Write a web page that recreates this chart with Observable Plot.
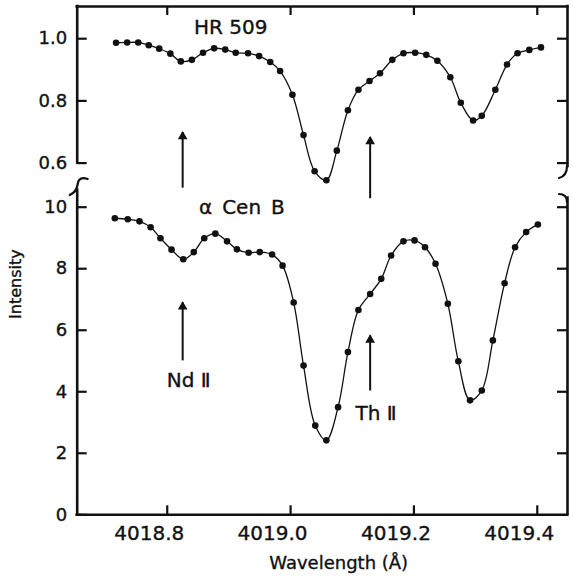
<!DOCTYPE html>
<html>
<head>
<meta charset="utf-8">
<script src="https://cdn.jsdelivr.net/npm/d3@7"></script>
<script src="https://cdn.jsdelivr.net/npm/@observablehq/plot@0.6"></script>
<style>
  html, body { margin: 0; padding: 0; background: #ffffff; }
  #chart { position: relative; width: 573px; height: 582px; overflow: hidden; }
  #chart svg { position: absolute; left: 0; top: 0; background: transparent; }
  g[aria-label="star-label"] text { letter-spacing: 1.5px; }
  #chart svg text { stroke: #111; stroke-width: 0.35px; }
</style>
</head>
<body>
<div id="chart"></div>
<script>
// HR 509 spectrum (residual intensity)
const wavelengthHR = [4018.717, 4018.735, 4018.753, 4018.770, 4018.787, 4018.805, 4018.822, 4018.840,
  4018.858, 4018.876, 4018.894, 4018.911, 4018.931, 4018.949, 4018.967, 4018.983, 4019.003, 4019.021,
  4019.039, 4019.058, 4019.075, 4019.093, 4019.110, 4019.128, 4019.145, 4019.165, 4019.183, 4019.202,
  4019.220, 4019.238, 4019.259, 4019.276, 4019.296, 4019.310, 4019.332, 4019.351, 4019.368, 4019.387, 4019.406];
const intensityHR = [0.987, 0.988, 0.988, 0.979, 0.968, 0.952, 0.927, 0.932, 0.955, 0.969, 0.965, 0.955,
  0.953, 0.944, 0.925, 0.896, 0.820, 0.690, 0.574, 0.545, 0.640, 0.770, 0.836, 0.864, 0.889, 0.932,
  0.953, 0.955, 0.948, 0.929, 0.876, 0.794, 0.737, 0.752, 0.836, 0.917, 0.953, 0.964, 0.972];

// alpha Cen B spectrum (counts)
const wavelengthCen = [4018.715, 4018.736, 4018.755, 4018.773, 4018.789, 4018.807, 4018.826, 4018.843,
  4018.860, 4018.878, 4018.897, 4018.913, 4018.932, 4018.950, 4018.970, 4018.987, 4019.005, 4019.021,
  4019.040, 4019.058, 4019.077, 4019.093, 4019.110, 4019.129, 4019.147, 4019.163, 4019.183, 4019.201,
  4019.218, 4019.235, 4019.255, 4019.272, 4019.291, 4019.310, 4019.328, 4019.347, 4019.364, 4019.382, 4019.401];
const intensityCen = [9.64, 9.61, 9.54, 9.35, 8.99, 8.62, 8.31, 8.54, 8.99, 9.14, 8.89, 8.63, 8.52, 8.54,
  8.46, 8.10, 6.90, 4.85, 2.90, 2.42, 3.50, 5.29, 6.66, 7.18, 7.67, 8.43, 8.89, 8.92, 8.70, 8.16, 6.86,
  4.99, 3.72, 4.04, 5.67, 7.53, 8.70, 9.19, 9.44];

// Axes
const xTicks = [4018.8, 4019.0, 4019.2, 4019.4];
const yTicksHR = [0.6, 0.8, 1.0];
const yTicksCen = [0, 2, 4, 6, 8, 10];

// Identified lines
const lineNames = ["Nd Ⅱ", "Th Ⅱ"];
const lineWavelengths = [4018.825, 4019.129];

const starHR = "HR 509";
const starCen = "α\u2002Cen\u2002B";
const xLabel = "Wavelength (Å)";
const yLabel = "Intensity";

// ---- layout ----
const W = 573, H = 582;
const X_DOMAIN = [4018.654, 4019.449];
const X_RANGE = [76.7, 567];
const [xmin, xmax] = X_DOMAIN;
const FONT = "DejaVu Sans, sans-serif";
const INK = "#111";

const hr = wavelengthHR.map((w, i) => ({w, v: intensityHR[i]}));
const cen = wavelengthCen.map((w, i) => ({w, v: intensityCen[i]}));

const axisStyle = {stroke: INK, strokeWidth: 2.6, strokeLinecap: "square"};
const tickStroke = {stroke: INK, strokeWidth: 2.2};

// pixel length converted to data units of a linear scale
const span = (domain, range, px) => px * Math.abs(domain[1] - domain[0]) / Math.abs(range[1] - range[0]);

function arrowMarks(xs, tips, tails) {
  const rows = xs.map((x, i) => ({x, tip: tips[i], tail: tails[i]}));
  return [
    Plot.link(rows, {x1: "x", x2: "x", y1: "tail", y2: "tip", stroke: INK, strokeWidth: 2}),
    Plot.dot(rows, {x: "x", y: "tip", symbol: "triangle", r: 3.6, fill: INK, stroke: "none", dy: 4.5})
  ];
}

const tickX = span(X_DOMAIN, X_RANGE, 10);   // horizontal tick length on the y axes

// ---- upper panel: HR 509 ----
const HR_DOMAIN = [0.6, 1.0], HR_RANGE = [162.6, 38.2];
const topEdge = 1.1035;
const tickHR = span(HR_DOMAIN, HR_RANGE, 9);
const upperChart = Plot.plot({
  width: W, height: H,
  margin: 0,
  style: {fontFamily: FONT, background: "transparent", color: INK},
  x: {domain: X_DOMAIN, range: X_RANGE, axis: null},
  y: {domain: HR_DOMAIN, range: HR_RANGE, axis: null},
  marks: [
    Plot.ruleX(xTicks, {x: d => d, y1: topEdge, y2: topEdge - tickHR, ...tickStroke}),
    Plot.ruleY(yTicksHR, {y: d => d, x1: xmin, x2: xmin + tickX, ...tickStroke}),
    Plot.ruleY(yTicksHR, {y: d => d, x1: xmax, x2: xmax - tickX, ...tickStroke}),
    Plot.ruleY([topEdge], {x1: xmin, x2: xmax, ...axisStyle}),
    Plot.ruleX([xmin], {y1: 0.6, y2: topEdge, ...axisStyle}),
    Plot.ruleX([xmax], {y1: 0.589, y2: topEdge, ...axisStyle}),
    Plot.text(yTicksHR, {x: xmin, y: d => d, text: d => d.toFixed(1), textAnchor: "end", dx: -10, fontSize: 18, fill: INK}),
    Plot.line(hr, {x: "w", y: "v", curve: "catmull-rom", stroke: INK, strokeWidth: 1.3}),
    Plot.dot(hr, {x: "w", y: "v", r: 3.3, fill: INK, stroke: "none"}),
    ...arrowMarks(lineWavelengths, [0.700, 0.684], [0.521, 0.487]),
    Plot.text([starHR], {x: 4018.903, y: 1.036, text: d => d, fontSize: 20, fill: INK, ariaLabel: "star-label"})
  ]
});

// ---- lower panel: alpha Cen B ----
const CEN_DOMAIN = [0, 10], CEN_RANGE = [514.3, 206.7];
const tickCen = span(CEN_DOMAIN, CEN_RANGE, 9);
const lowerChart = Plot.plot({
  width: W, height: H,
  margin: 0,
  style: {fontFamily: FONT, background: "transparent", color: INK},
  x: {domain: X_DOMAIN, range: X_RANGE, axis: null},
  y: {domain: CEN_DOMAIN, range: CEN_RANGE, axis: null},
  marks: [
    Plot.ruleX(xTicks, {x: d => d, y1: 0, y2: tickCen, ...tickStroke}),
    Plot.ruleY(yTicksCen, {y: d => d, x1: xmin, x2: xmin + tickX, ...tickStroke}),
    Plot.ruleY(yTicksCen.filter(d => d > 0), {y: d => d, x1: xmax, x2: xmax - tickX, ...tickStroke}),
    Plot.ruleY([0], {x1: xmin, x2: xmax, ...axisStyle}),
    Plot.ruleX([xmin], {y1: 0, y2: 10.55, ...axisStyle}),
    Plot.ruleX([xmax], {y1: 0, y2: 10.3, ...axisStyle}),
    Plot.text(yTicksCen, {x: xmin, y: d => d, text: d => String(d), textAnchor: "end", dx: -10, fontSize: 18, fill: INK}),
    Plot.text(xTicks, {x: d => d, y: 0, text: d => d.toFixed(1), dx: -18, dy: 19, fontSize: 20, fill: INK}),
    Plot.text([xLabel], {x: 4019.078, y: -1.58, text: d => d, fontSize: 18, fill: INK}),
    Plot.text([yLabel], {x: 4018.554, y: 7.5, text: d => d, rotate: -90, fontSize: 16, fill: INK}),
    Plot.line(cen, {x: "w", y: "v", curve: "catmull-rom", stroke: INK, strokeWidth: 1.3}),
    Plot.dot(cen, {x: "w", y: "v", r: 3.3, fill: INK, stroke: "none"}),
    ...arrowMarks(lineWavelengths, [6.91, 5.83], [5.02, 4.04]),
    Plot.text(lineNames, {x: (d, i) => lineWavelengths[i], y: (d, i) => [4.35, 3.28][i], text: d => d, dx: 6, fontSize: 20, fill: INK}),
    Plot.text([starCen], {x: 4018.921, y: 9.99, text: d => d, fontSize: 20, fill: INK, ariaLabel: "star-label"})
  ]
});

// axis break marks between the two panels
function breakMarks(svg, paths) {
  const g = d3.select(svg).append("g").attr("fill", "none").attr("stroke", INK)
    .attr("stroke-width", 2.2).attr("stroke-linecap", "round");
  for (const d of paths) g.append("path").attr("d", d);
}
const sx = upperChart.scale("x");
const L = sx.apply(xmin), R = sx.apply(xmax);
breakMarks(lowerChart, [
  `M${L + 11},179 Q${L + 2},176 ${L + 1},184 Q${L},192 ${L - 7},195`,
  `M${R},166 Q${R},176 ${R - 8},178`,
  `M${R - 8},194 Q${R},194 ${R},202`
]);

document.getElementById("chart").append(lowerChart, upperChart);
</script>
</body>
</html>
